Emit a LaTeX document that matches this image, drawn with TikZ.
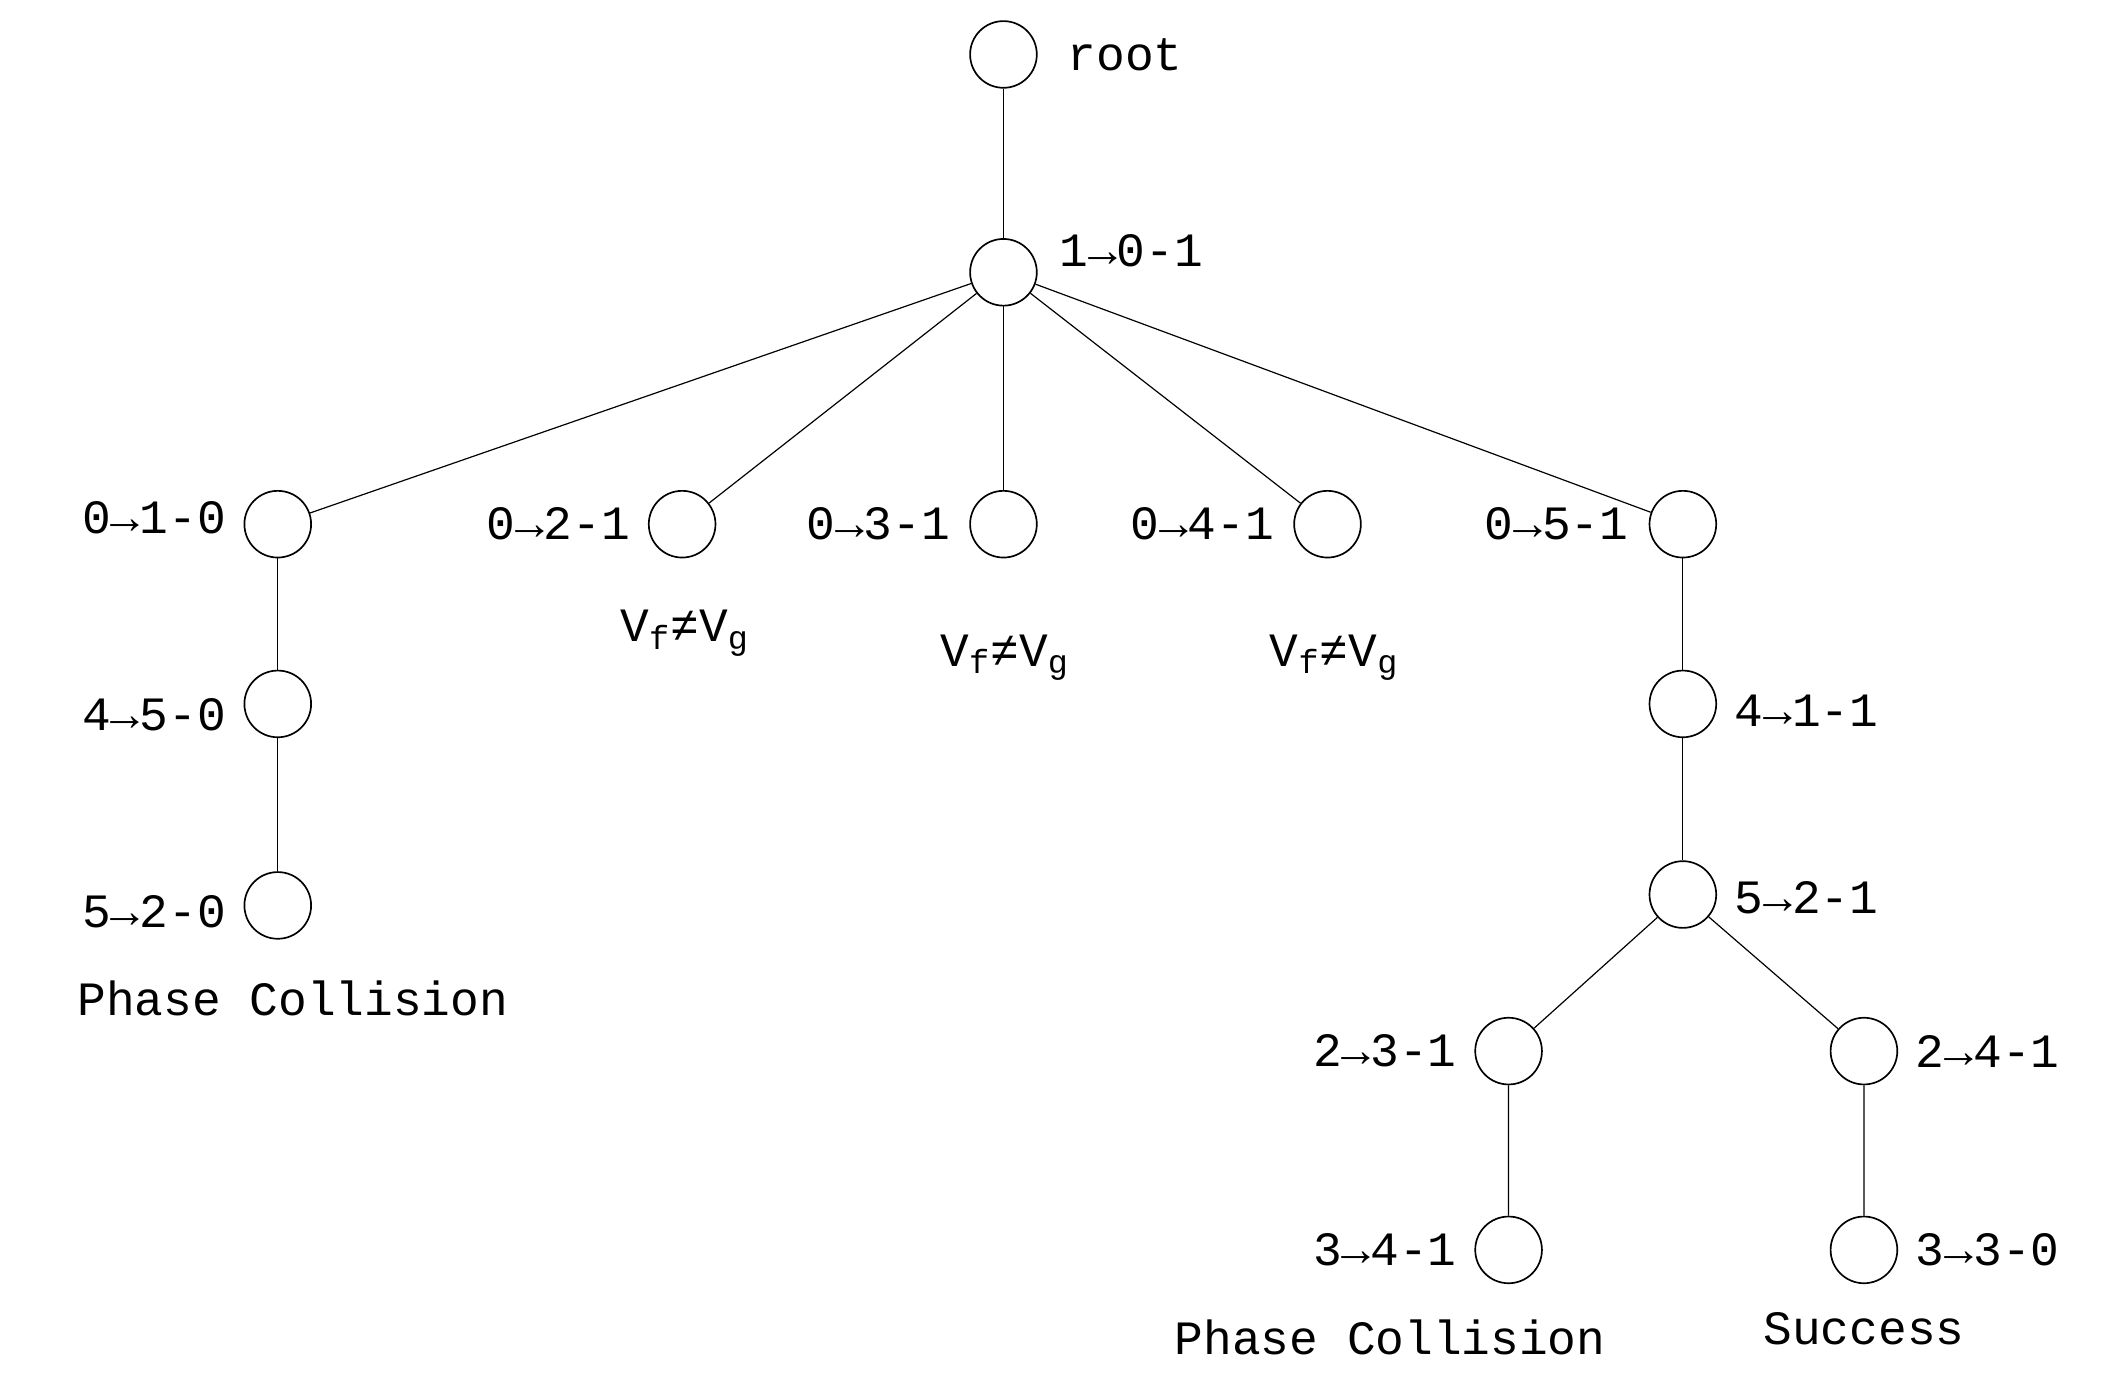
\documentclass[tikz,border=0pt]{standalone}
\usepackage{fontspec}
\setmainfont{Liberation Mono}
\begin{document}
\begin{tikzpicture}[x=0.02cm,y=-0.02cm,
 nd/.style={circle,draw,minimum size=0.98cm,inner sep=0pt,line width=0.7pt},
 lb/.style={font=\fontsize{20}{22}\selectfont,inner sep=1pt},
 every path/.style={line width=0.5pt}]
\useasboundingbox (0,0) rectangle (1560,1011.5);
\node[nd] (r) at (737,40) {};
\node[nd] (n1) at (737,200) {};
\node[nd] (a) at (204,385) {};
\node[nd] (b) at (501,385) {};
\node[nd] (c) at (737,385) {};
\node[nd] (d) at (975,385) {};
\node[nd] (e) at (1236,385) {};
\node[nd] (a2) at (204,517) {};
\node[nd] (a3) at (204,665) {};
\node[nd] (e2) at (1236,517) {};
\node[nd] (e3) at (1236,657) {};
\node[nd] (f) at (1108,772) {};
\node[nd] (g) at (1369,772) {};
\node[nd] (f2) at (1108,918) {};
\node[nd] (g2) at (1369,918) {};
\draw (r)--(n1);
\foreach \t in {a,b,c,d,e} \draw (n1)--(\t);
\draw (a)--(a2)--(a3);
\draw (e)--(e2)--(e3);
\draw (e3)--(f)--(f2);
\draw (e3)--(g)--(g2);
\node[lb,anchor=west] (lr) at (782,40) {root};
\node[lb,anchor=west] (l1) at (776,184) {1→0-1};
\node[lb,anchor=east] (la) at (168,380) {0→1-0};
\node[lb,anchor=east] (lb1) at (465,385) {0→2-1};
\node[lb,anchor=east] (lc) at (700,385) {0→3-1};
\node[lb,anchor=east] (ld) at (938,385) {0→4-1};
\node[lb,anchor=east] (le) at (1198,385) {0→5-1};
\node[lb] (vb) at (503,465) {V\textsubscript{f}≠V\textsubscript{g}};
\node[lb] (vc) at (738,483) {V\textsubscript{f}≠V\textsubscript{g}};
\node[lb] (vd) at (980,483) {V\textsubscript{f}≠V\textsubscript{g}};
\node[lb,anchor=east] (la2) at (168,525) {4→5-0};
\node[lb,anchor=east] (la3) at (168,670) {5→2-0};
\node[lb] (pc1) at (215,733) {Phase Collision};
\node[lb,anchor=west] (le2) at (1272,522) {4→1-1};
\node[lb,anchor=west] (le3) at (1272,659) {5→2-1};
\node[lb,anchor=east] (lf) at (1072,772) {2→3-1};
\node[lb,anchor=west] (lg) at (1405,772) {2→4-1};
\node[lb,anchor=east] (lf2) at (1072,918) {3→4-1};
\node[lb,anchor=west] (lg2) at (1405,918) {3→3-0};
\node[lb] (pc2) at (1021,982) {Phase Collision};
\node[lb] (su) at (1369,976) {Success};
\end{tikzpicture}
\end{document}
